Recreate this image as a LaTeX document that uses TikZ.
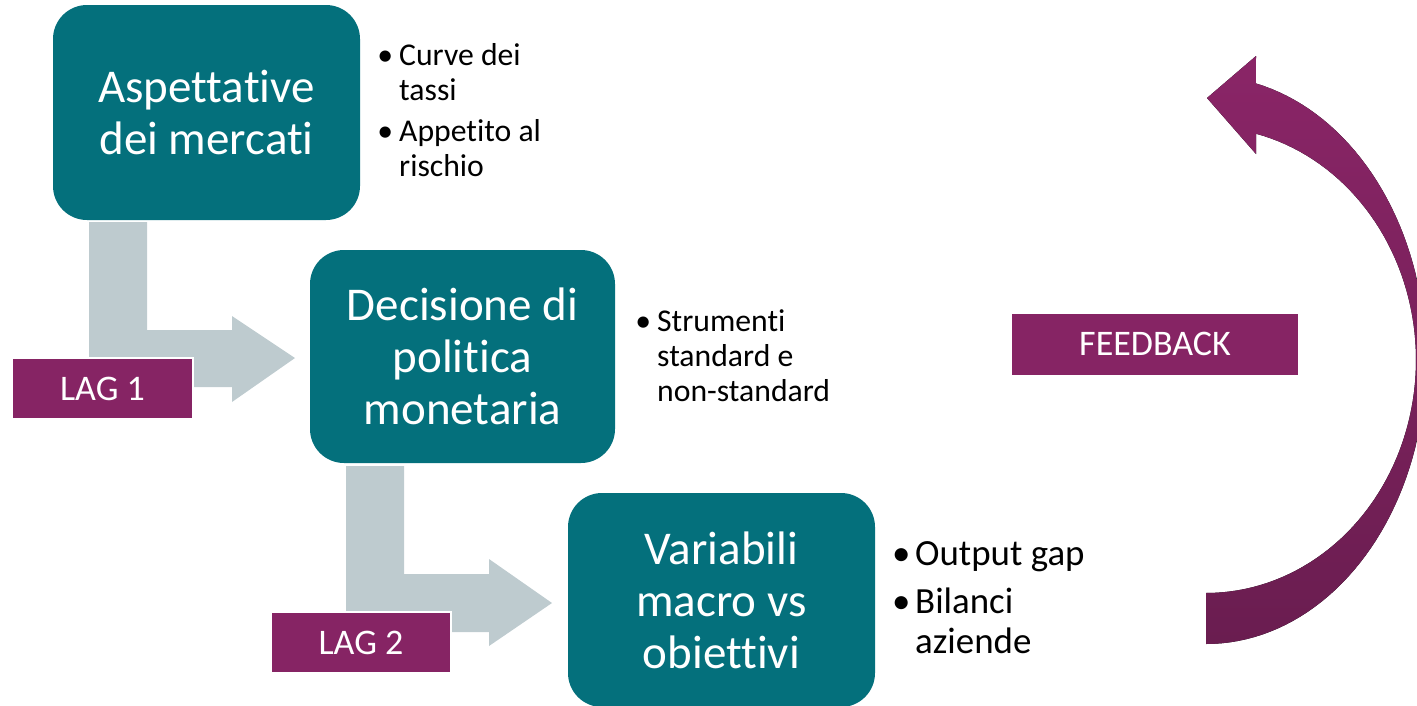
\documentclass[tikz,border=0pt]{standalone}
\usepackage{fontspec}
\setmainfont{Carlito}[Ligatures=NoCommon]
\usetikzlibrary{calc}
\definecolor{teal1}{RGB}{4,112,124}
\definecolor{purp}{RGB}{134,36,100}
\definecolor{greyar}{RGB}{190,203,207}
\definecolor{fbtop}{RGB}{138,37,103}
\definecolor{fbmid}{RGB}{125,33,93}
\definecolor{fbbot}{RGB}{106,29,80}
\tikzset{
  mainbox/.style={fill=teal1, rounded corners=34pt, text=white, align=center,
    inner sep=0pt, font=\fontsize{47}{52}\selectfont},
  lagbox/.style={fill=purp, draw=white, line width=1.2pt, text=white,
    inner sep=0pt, font=\fontsize{36}{40}\selectfont},
  bulletlist/.style={anchor=base west, inner sep=0pt, text=black},
  greyarrow/.style={fill=greyar},
}
\newcommand{\bl}{\makebox[14pt]{\textbullet}}
\begin{document}
\begin{tikzpicture}[x=1pt,y=-1pt]
\useasboundingbox (0,0) rectangle (1417,705);

% grey bent arrows
\fill[greyarrow] (89,222) -- (147,222) -- (147,330) -- (232,330) -- (232,316)
  -- (295,358) -- (232,402) -- (232,387) -- (89,387) -- cycle;
\fill[greyarrow] (346,466) -- (404,466) -- (404,574) -- (489,574) -- (489,559)
  -- (552,603) -- (489,646) -- (489,632) -- (346,632) -- cycle;

% main boxes
\node[mainbox, minimum width=307pt, minimum height=215pt] (b1) at (206.5,112.5)
  {Aspettative\\dei mercati};
\node[mainbox, minimum width=305pt, minimum height=213pt] (b2) at (462.5,356.5)
  {Decisione di\\politica\\monetaria};
\begin{scope}
\clip (0,0) rectangle (1417,705);
\node[mainbox, minimum width=307pt, minimum height=214pt] (b3) at (721.5,600)
  {Variabili\\macro vs\\obiettivi};
\end{scope}

% bullet lists
\node[bulletlist, font=\fontsize{31.7}{35}\selectfont] (l1) at (378,65)
  {\begin{tabular}[t]{@{}l@{\hspace{7pt}}l@{}}
   \bl & Curve dei\\ & tassi\\[6pt]
   \bl & Appetito al\\ & rischio
   \end{tabular}};
\node[bulletlist, font=\fontsize{31.7}{35}\selectfont] (l2) at (636,331)
  {\begin{tabular}[t]{@{}l@{\hspace{7pt}}l@{}}
   \bl & Strumenti\\ & standard e\\ & non-standard
   \end{tabular}};
\node[bulletlist, font=\fontsize{36.9}{40}\selectfont] (l3) at (894,565)
  {\begin{tabular}[t]{@{}l@{\hspace{7pt}}l@{}}
   \bl & Output gap\\[8pt]
   \bl & Bilanci\\ & aziende
   \end{tabular}};

% lag labels
\node[lagbox, minimum width=181pt, minimum height=61pt] (lag1) at (102.5,388.5) {LAG 1};
\node[lagbox, minimum width=180pt, minimum height=61pt] (lag2) at (361,642.5) {LAG 2};

% feedback curved arrow
\begin{scope}
\clip (0,0) rectangle (1417,705);
\fill[top color=fbtop, middle color=fbmid, bottom color=fbbot]
  (1206,644)
  -- plot[domain=0:166.9, samples=80] ({1206+220*cos(90-\x)},{360+284*sin(90-\x)})
  -- (1256,56) -- (1207,98) -- (1256,154)
  -- plot[domain=0:166.2, samples=80] ({1206+210*cos(-76.2+\x)},{360+233*sin(-76.2+\x)})
  -- cycle;
\end{scope}
\node[lagbox, line width=0pt, draw=none, minimum width=286pt, minimum height=61pt] (fb) at (1155,344) {FEEDBACK};
\end{tikzpicture}
\end{document}
